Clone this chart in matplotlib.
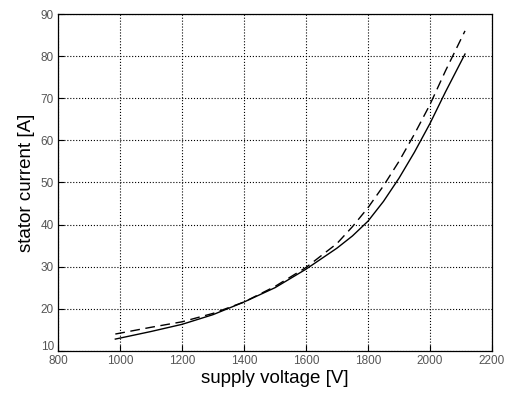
import matplotlib
matplotlib.use("Agg")
from matplotlib import pyplot as plt
from matplotlib import transforms

# supply voltage [V] and stator current [A]
volt_solid = [985, 1100, 1200, 1300, 1400, 1500, 1600, 1700, 1750, 1800, 1850, 1900, 1950, 2000, 2050, 2113]
amp_solid = [12.8, 14.6, 16.3, 18.6, 21.6, 25.0, 29.4, 34.4, 37.3, 40.8, 45.5, 51.0, 57.2, 64.0, 71.5, 80.5]

volt_dash = [985, 1100, 1200, 1300, 1400, 1500, 1600, 1700, 1750, 1800, 1850, 1900, 1950, 2000, 2050, 2113]
amp_dash = [14.0, 15.6, 16.9, 18.9, 21.6, 25.3, 29.8, 35.5, 39.5, 44.0, 49.2, 55.0, 61.5, 68.5, 76.5, 86.0]

x_ticks = [800, 1000, 1200, 1400, 1600, 1800, 2000, 2200]
y_ticks = [10, 20, 30, 40, 50, 60, 70, 80, 90]

plt.rcParams['font.family'] = ['Liberation Sans', 'DejaVu Sans']

fig = plt.figure(figsize=(5.13, 4.01), dpi=100)
ax = fig.add_axes([0.113, 0.125, 0.846, 0.840])

ax.plot(volt_solid, amp_solid, color='black', lw=1.0, ls='-')
ax.plot(volt_dash, amp_dash, color='black', lw=1.0, ls=(0, (7, 4)))

ax.set_xlim(800, 2200)
ax.set_ylim(10, 90)
ax.set_xticks(x_ticks)
ax.set_yticks(y_ticks)
ax.tick_params(direction='in', length=4, labelsize=8.5, labelcolor='#555555')
ax.tick_params(axis='x', pad=3)
ax.tick_params(axis='y', pad=3)
ax.grid(True, color='black', ls=':', lw=0.8)
for s in ax.spines.values():
    s.set_linewidth(0.9)

# lift the bottom "10" a little so it sits above "800", as in the original
lbl = ax.get_yticklabels()[0]
lbl.set_transform(lbl.get_transform() + transforms.ScaledTranslation(0, 4 / 72, fig.dpi_scale_trans))

ax.set_xlabel("supply voltage [V]", fontsize=13.5, labelpad=2)
ax.set_ylabel("stator current [A]", fontsize=13.5, labelpad=4)

fig.savefig("out.png", dpi=100)
